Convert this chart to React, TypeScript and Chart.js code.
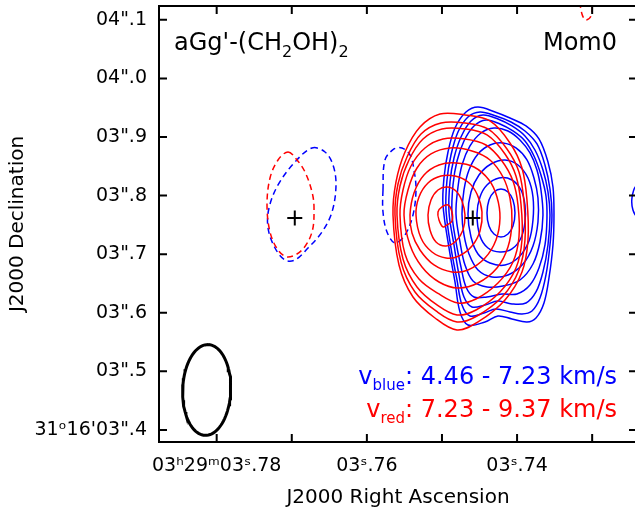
import React, { useEffect, useRef } from "react";
import { Chart, registerables } from "chart.js";

Chart.register(...registerables);

const FONT = '"DejaVu Sans", Verdana, sans-serif';

// ---- axes (RA seconds within 03h29m, Dec arcsec within 31°16') ----
const raRange = [3.72403, 3.78768];
const decRange = [3.3794, 4.12365];
const raTicks = [3.78, 3.77, 3.76, 3.75, 3.74, 3.73];
const raTickLabels = ["03ʰ29ᵐ03ˢ.78", "", "03ˢ.76", "", "03ˢ.74", ""];
const decTicks = [3.4, 3.5, 3.6, 3.7, 3.8, 3.9, 4.0, 4.1];
const decTickLabels = ["31ᵒ16'03\".4", "03\".5", "03\".6", "03\".7", "03\".8", "03\".9", "04\".0", "04\".1"];

// ---- map WCS: reference pixel and cell size (arcsec) ----
const mapRefRA = 3.74587;
const mapRefDec = 3.7618;
const mapCell = 0.001707;
const decDegrees = 31 + 16 / 60 + 3.76 / 3600;

// ---- continuum sources ----
const sourceRA = [3.7696, 3.7459];
const sourceDec = [3.7618, 3.7618];

// ---- synthesized beam ----
const beamRA = 3.78133;
const beamDec = 3.4682;
const beamMajor = 0.155;
const beamMinor = 0.082;
const beamPA = -2;

// ---- red-shifted moment-0 contours, vertices in map pixels (i west, j north) ----
const redContours: number[][][] = [
  [[-80,3],[-77,36],[-68,66],[-53,91],[-33,104],[-8,103],[17,97],[37,75],[49,50],[54,18],[55,-22],[49,-54],[32,-82],[5,-104],[-16,-112],[-38,-100],[-60,-79],[-74,-47]],
  [[-78,3],[-75,34],[-66,61],[-52,84],[-32,95],[-8,95],[15,89],[34,69],[46,46],[51,16],[52,-22],[46,-52],[30,-78],[4,-98],[-16,-104],[-37,-93],[-58,-74],[-72,-44]],
  [[-76,3],[-73,32],[-64,58],[-50,79],[-31,89],[-8,89],[14,83],[32,64],[43,42],[48,14],[49,-22],[43,-50],[27,-74],[3,-92],[-16,-97],[-36,-87],[-56,-69],[-70,-41]],
  [[-73,3],[-70,28],[-62,52],[-48,70],[-30,79],[-8,79],[13,73],[29,57],[40,37],[45,13],[46,-19],[40,-44],[25,-65],[3,-81],[-15,-85],[-34,-76],[-54,-61],[-68,-36]],
  [[-69,3],[-65,28],[-56,50],[-42,64],[-23,70],[-1,67],[17,58],[30,41],[37,20],[39,-4],[35,-29],[24,-50],[5,-65],[-15,-70],[-34,-64],[-51,-49],[-63,-27]],
  [[-63,3],[-59,25],[-49,43],[-34,53],[-17,55],[1,51],[16,38],[24,21],[27,0],[23,-22],[12,-40],[-5,-52],[-21,-54],[-39,-47],[-53,-32],[-61,-15]],
  [[-57,3],[-54,21],[-45,35],[-32,42],[-18,42],[-5,36],[4,24],[9,6],[7,-13],[-1,-28],[-14,-38],[-27,-40],[-41,-34],[-52,-20]],
  [[-45,3],[-42,18],[-35,28],[-26,31],[-17,27],[-11,17],[-8,3],[-10,-12],[-17,-23],[-27,-28],[-37,-24],[-43,-12]],
  [[-31,11],[-25,13],[-21,6],[-21,-3],[-26,-7],[-30,-9],[-34,-2],[-35,6]],
];

// ---- blue-shifted moment-0 contours ----
const blueContours: number[][][] = [
  [[-30,13],[-29,40],[-25,66],[-18,90],[-7,106],[5,111],[22,106],[37,100],[53,92],[66,79],[75,56],[80,31],[81,3],[80,-27],[76,-60],[71,-85],[63,-100],[54,-104],[39,-101],[25,-98],[12,-104],[-5,-107],[-13,-94],[-18,-64],[-24,-30]],
  [[-27,8],[-26,38],[-22,63],[-15,86],[-5,101],[7,106],[23,102],[38,96],[52,87],[64,74],[72,53],[77,29],[79,3],[77,-27],[73,-57],[67,-80],[59,-93],[49,-96],[37,-94],[23,-91],[11,-95],[-3,-98],[-11,-87],[-16,-62],[-22,-30]],
  [[-24,6],[-23,36],[-19,60],[-12,81],[-2,97],[10,103],[25,99],[39,92],[52,82],[62,68],[70,48],[75,26],[77,3],[75,-27],[70,-54],[63,-74],[53,-85],[39,-86],[25,-83],[12,-87],[-1,-89],[-9,-79],[-14,-57],[-19,-27]],
  [[-21,4],[-20,33],[-16,57],[-9,77],[1,92],[13,98],[27,94],[40,87],[52,77],[61,62],[68,43],[73,22],[74,0],[72,-27],[66,-50],[57,-67],[44,-76],[29,-76],[14,-79],[1,-79],[-7,-69],[-12,-49],[-17,-24]],
  [[-17,4],[-15,31],[-11,53],[-3,72],[8,85],[21,90],[35,87],[47,78],[57,65],[64,48],[68,28],[70,3],[67,-24],[60,-46],[47,-62],[30,-68],[14,-69],[0,-63],[-8,-47],[-13,-24]],
  [[-11,4],[-9,28],[-4,48],[5,64],[17,73],[30,75],[43,70],[54,58],[61,40],[65,20],[65,-4],[60,-28],[50,-46],[35,-57],[19,-59],[5,-52],[-4,-36],[-9,-17]],
  [[-5,4],[-2,26],[6,43],[18,54],[32,58],[45,53],[55,40],[60,21],[60,-2],[56,-23],[46,-39],[32,-47],[17,-45],[5,-36],[-2,-19]],
  [[4,4],[7,21],[14,33],[26,40],[39,38],[48,28],[52,13],[52,-4],[48,-20],[39,-31],[27,-34],[15,-30],[7,-18]],
  [[14,5],[16,18],[21,26],[28,29],[35,26],[40,18],[42,5],[40,-8],[35,-16],[28,-19],[21,-16],[16,-8]],
  [[172,36],[163,32],[159,20],[160,8],[165,1],[175,4],[180,20]],
];

// ---- negative-level (dashed) contours ----
const redNegContours: number[][][] = [
  [[-185,66],[-176,58],[-168,46],[-161,26],[-159,10],[-161,-14],[-171,-32],[-185,-39],[-195,-32],[-203,-14],[-206,13],[-203,40],[-195,58]],
  [[108,216],[109,204],[113,198],[118,202],[119,214],[115,222]],
];
const blueNegContours: number[][][] = [
  [[-161,70],[-148,66],[-140,53],[-137,33],[-141,6],[-151,-14],[-165,-30],[-178,-42],[-188,-42],[-198,-30],[-205,-10],[-204,10],[-195,33],[-178,56]],
  [[-90,28],[-88,58],[-79,69],[-71,70],[-63,63],[-59,48],[-57,28],[-60,3],[-68,-17],[-78,-25],[-86,-14],[-90,6]],
];

const cosDec = Math.cos((decDegrees * Math.PI) / 180);
const toWorld = (p: number[]) => ({
  x: mapRefRA - (p[0] * mapCell) / (15 * cosDec),
  y: mapRefDec + p[1] * mapCell,
});

// closed loop: wrap neighbours so the spline is smooth; first and last segments hidden
const loop = (pts: number[][]) => {
  const w = pts.map(toWorld);
  return [w[w.length - 1], ...w, w[0], w[1]];
};
const hideWrap = (n: number) => (ctx: any) =>
  ctx.p0DataIndex === 0 || ctx.p0DataIndex === n + 1 ? "rgba(0,0,0,0)" : undefined;

const contourDataset = (pts: number[][], color: string, dashed: boolean) => ({
  type: "scatter" as const,
  data: loop(pts),
  showLine: true,
  borderColor: color,
  borderWidth: 1.5,
  borderDash: dashed ? [6, 4] : [],
  pointRadius: 0,
  tension: 0.35,
  fill: false,
  segment: { borderColor: hideWrap(pts.length) },
});

const beamPoints = () => {
  const pts: { x: number; y: number }[] = [];
  const a = beamMajor / 2, b = beamMinor / 2, pa = (beamPA * Math.PI) / 180;
  for (let k = 0; k <= 90; k++) {
    const t = (k / 90) * 2 * Math.PI;
    const east = a * Math.cos(t) * Math.sin(pa) + b * Math.sin(t) * Math.cos(pa);
    const north = a * Math.cos(t) * Math.cos(pa) - b * Math.sin(t) * Math.sin(pa);
    pts.push({ x: beamRA + east / (15 * cosDec), y: beamDec + north });
  }
  return pts;
};

type Run = { t: string; sub?: boolean };
function drawRich(ctx: CanvasRenderingContext2D, runs: Run[], x: number, y: number, align: "left" | "right", color: string, size: number, subSize: number, subDy: number) {
  const f = (s: number) => `${s}px ${FONT}`;
  let w = 0;
  runs.forEach((r) => { ctx.font = f(r.sub ? subSize : size); w += ctx.measureText(r.t).width; });
  let cx = align === "right" ? x - w : x;
  ctx.fillStyle = color;
  ctx.textAlign = "left";
  ctx.textBaseline = "alphabetic";
  runs.forEach((r) => {
    ctx.font = f(r.sub ? subSize : size);
    ctx.fillText(r.t, cx, y + (r.sub ? subDy : 0));
    cx += ctx.measureText(r.t).width;
  });
}

const TICK = 8;
const framePlugin = {
  id: "frame",
  afterDraw(chart: any) {
    const { ctx, chartArea: a } = chart;
    const xs = chart.scales.x, ys = chart.scales.y;
    ctx.save();
    ctx.strokeStyle = "#000";
    ctx.lineWidth = 2;
    ctx.strokeRect(a.left, a.top, a.right - a.left, a.bottom - a.top);
    ctx.beginPath();
    raTicks.forEach((v) => {
      const p = xs.getPixelForValue(v);
      ctx.moveTo(p, a.bottom); ctx.lineTo(p, a.bottom - TICK);
      ctx.moveTo(p, a.top); ctx.lineTo(p, a.top + TICK);
    });
    decTicks.forEach((v) => {
      const p = ys.getPixelForValue(v);
      ctx.moveTo(a.left, p); ctx.lineTo(a.left + TICK, p);
      ctx.moveTo(a.right, p); ctx.lineTo(a.right - TICK, p);
    });
    ctx.stroke();
    drawRich(ctx, [{ t: "aGg'-(CH" }, { t: "2", sub: true }, { t: "OH)" }, { t: "2", sub: true }], a.left + 15, a.top + 44, "left", "#000", 24, 16, 7);
    drawRich(ctx, [{ t: "Mom0" }], a.right - 20, a.top + 44, "right", "#000", 24, 16, 7);
    drawRich(ctx, [{ t: "v" }, { t: "blue", sub: true }, { t: ": 4.46 - 7.23 km/s" }], a.right - 20, a.bottom - 58, "right", "#0000ff", 24, 15, 6);
    drawRich(ctx, [{ t: "v" }, { t: "red", sub: true }, { t: ": 7.23 - 9.37 km/s" }], a.right - 20, a.bottom - 25, "right", "#ff0000", 24, 15, 6);
    ctx.restore();
  },
};

export default function App() {
  const ref = useRef<HTMLCanvasElement | null>(null);
  useEffect(() => {
    if (!ref.current) return;
    const datasets: any[] = [
      {
        type: "scatter",
        data: sourceRA.map((x, k) => ({ x, y: sourceDec[k] })),
        pointStyle: "cross",
        pointRadius: 7.5,
        pointBorderWidth: 2,
        borderColor: "#000",
        showLine: false,
      },
      {
        type: "scatter",
        data: beamPoints(),
        showLine: true,
        borderColor: "#000",
        borderWidth: 3,
        pointRadius: 0,
        tension: 0,
      },
      ...redContours.map((c) => contourDataset(c, "#ff0000", false)),
      ...redNegContours.map((c) => contourDataset(c, "#ff0000", true)),
      ...blueContours.map((c) => contourDataset(c, "#0000ff", false)),
      ...blueNegContours.map((c) => contourDataset(c, "#0000ff", true)),
    ];
    const chart = new Chart(ref.current, {
      type: "scatter",
      data: { datasets },
      options: {
        animation: false,
        responsive: false,
        events: [],
        layout: { autoPadding: false, padding: { top: 6, right: 23, bottom: 0, left: 0 } },
        elements: { line: { capBezierPoints: false } },
        plugins: { legend: { display: false }, tooltip: { enabled: false } },
        scales: {
          x: {
            type: "linear",
            reverse: true,
            min: raRange[0],
            max: raRange[1],
            grid: { display: false, drawTicks: false },
            border: { display: false },
            afterBuildTicks: (s: any) => { s.ticks = raTicks.map((v) => ({ value: v })); },
            afterFit: (s: any) => { s.height = 68; s.paddingLeft = 0; s.paddingRight = 0; s.paddingTop = 0; s.paddingBottom = 0; },
            ticks: {
              autoSkip: false,
              maxRotation: 0,
              padding: 13,
              color: "#000",
              font: { family: FONT, size: 19 },
              callback: (_v: any, i: number) => raTickLabels[i],
            },
            title: { display: true, text: "J2000 Right Ascension", color: "#000", font: { family: FONT, size: 20 }, padding: { top: 0, bottom: 0 } },
          },
          y: {
            type: "linear",
            min: decRange[0],
            max: decRange[1],
            grid: { display: false, drawTicks: false },
            border: { display: false },
            afterBuildTicks: (s: any) => { s.ticks = decTicks.map((v) => ({ value: v })); },
            afterFit: (s: any) => { s.width = 159; s.paddingTop = 0; s.paddingBottom = 0; s.paddingLeft = 0; s.paddingRight = 0; },
            ticks: {
              autoSkip: false,
              padding: 12,
              color: "#000",
              font: { family: FONT, size: 19 },
              callback: (_v: any, i: number) => decTickLabels[i],
            },
            title: { display: true, text: "J2000 Declination", color: "#000", font: { family: FONT, size: 20 }, padding: { top: 6, bottom: 0 } },
          },
        },
      },
      plugins: [framePlugin],
    } as any);
    return () => chart.destroy();
  }, []);
  return (
    <div style={{ position: "fixed", left: 0, top: 0, width: 635, height: 510, overflow: "hidden", background: "#fff" }}>
      <canvas ref={ref} width={660} height={510} style={{ display: "block", width: 660, height: 510 }} />
    </div>
  );
}
